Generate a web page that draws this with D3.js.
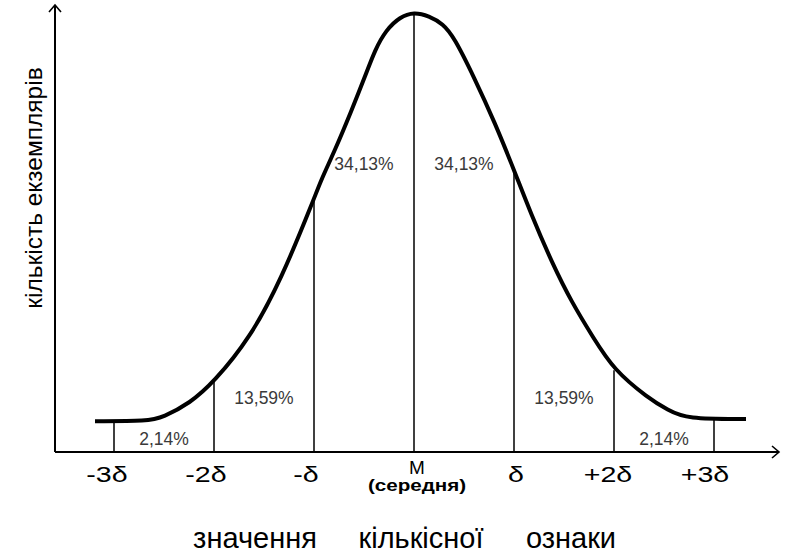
<!DOCTYPE html>
<html>
<head>
<meta charset="utf-8">
<script src="https://cdn.jsdelivr.net/npm/d3@7"></script>
<style>
body { margin: 0; background: #fff; }
svg { display: block; }
text { font-family: "Liberation Sans", Arial, sans-serif; }
</style>
</head>
<body>
<div id="chart"></div>
<script>
// позначки по осі X (у сигмах) та їх підписи
var sigmaTicks = [-3, -2, -1, 0, 1, 2, 3];
var tickLabels = ["-3δ", "-2δ", "-δ", "M", "δ", "+2δ", "+3δ"];
// частки між позначками
var bandLabels = ["2,14%", "13,59%", "34,13%", "34,13%", "13,59%", "2,14%"];
// крива (x у сигмах, y у % від вершини)
var curveX = [-3.19, -2.66, -2.51, -2.24, -2, -1.64, -1.33, -1, -0.93, -0.79, -0.63, -0.48, -0.39, -0.28, -0.14, 0,
              0.15, 0.29, 0.40, 0.60, 0.81, 1, 1.17, 1.38, 1.58, 1.79, 2, 2.34, 2.54, 2.72, 3.32];
var curveY = [7.0, 7.0, 7.9, 11.1, 15.9, 25.9, 39.1, 57.5, 61.8, 68.6, 77.3, 85.9, 91.4, 95.9, 98.9, 100,
              99.1, 97.3, 94.3, 85.2, 74.8, 64.1, 54.1, 43.0, 33.9, 26.1, 18.6, 12.3, 9.5, 7.5, 7.5];

var width = 785, height = 553;
var axisX = 55, axisY = 452, axisTop = 5, axisRight = 779;

var svg = d3.select("#chart").append("svg")
    .attr("width", width)
    .attr("height", height);

var x = d3.scaleLinear().domain([-3, 3]).range([114, 714]);
var y = d3.scaleLinear().domain([0, 100]).range([axisY, 12]);

var points = curveX.map(function(d, i) { return [d, curveY[i]]; });

// значення кривої в точці (лінійно між зчитаними точками)
function curveAt(s) {
    var i = d3.bisectLeft(curveX, s);
    if (curveX[i] === s) return curveY[i];
    var t = (s - curveX[i - 1]) / (curveX[i] - curveX[i - 1]);
    return curveY[i - 1] + t * (curveY[i] - curveY[i - 1]);
}

// осі
svg.append("line")
    .attr("x1", axisX).attr("y1", axisY)
    .attr("x2", axisX).attr("y2", axisTop)
    .attr("stroke", "#000").attr("stroke-width", 2);
svg.append("line")
    .attr("x1", axisX).attr("y1", axisY)
    .attr("x2", axisRight).attr("y2", axisY)
    .attr("stroke", "#000").attr("stroke-width", 2);
svg.append("path")
    .attr("d", "M" + (axisX - 6) + "," + (axisTop + 7) + "L" + axisX + "," + axisTop + "L" + (axisX + 6) + "," + (axisTop + 7))
    .attr("fill", "none").attr("stroke", "#000").attr("stroke-width", 1.6);
svg.append("path")
    .attr("d", "M" + (axisRight - 7) + "," + (axisY - 6) + "L" + axisRight + "," + axisY + "L" + (axisRight - 7) + "," + (axisY + 6))
    .attr("fill", "none").attr("stroke", "#000").attr("stroke-width", 1.6);

// вертикальні лінії до кривої
svg.selectAll(".marker")
    .data(sigmaTicks)
    .enter().append("line")
        .attr("class", "marker")
        .attr("x1", d => x(d)).attr("x2", d => x(d))
        .attr("y1", axisY)
        .attr("y2", d => y(curveAt(d)))
        .attr("stroke", "#000")
        .attr("stroke-width", 1.5);

// крива
var line = d3.line()
    .x(d => x(d[0]))
    .y(d => y(d[1]))
    .curve(d3.curveBasis);

svg.append("path")
    .datum(points)
    .attr("d", line)
    .attr("fill", "none")
    .attr("stroke", "#000")
    .attr("stroke-width", 4)
    .attr("stroke-linejoin", "round");

// підписи часток
var bandY = [1.7, 11, 64, 64, 11, 1.7];
svg.selectAll(".band")
    .data(bandLabels)
    .enter().append("text")
        .attr("class", "band")
        .attr("x", (d, i) => x((sigmaTicks[i] + sigmaTicks[i + 1]) / 2))
        .attr("y", (d, i) => y(bandY[i]))
        .attr("text-anchor", "middle")
        .attr("font-size", "17.5px")
        .attr("fill", "#3a3a3a")
        .text(d => d);

// підписи позначок (окрім M)
var tickShift = [-7, -8, -8, 0, 2, -6, -9];
svg.selectAll(".tick")
    .data(tickLabels.filter(d => d !== "M"))
    .enter().append("text")
        .attr("class", "tick")
        .attr("transform", function(d) {
            var i = tickLabels.indexOf(d);
            return "translate(" + (x(sigmaTicks[i]) + tickShift[i]) + "," + (axisY + 30) + ") scale(1.3,1)";
        })
        .attr("text-anchor", "middle")
        .attr("font-size", "22px")
        .text(d => d);

svg.append("text")
    .attr("x", x(0) + 3).attr("y", axisY + 22)
    .attr("text-anchor", "middle")
    .attr("font-size", "19px")
    .text(tickLabels[3]);
svg.append("text")
    .attr("transform", "translate(" + (x(0) + 3) + "," + (axisY + 39) + ") scale(1.25,1)")
    .attr("text-anchor", "middle")
    .attr("font-size", "16.5px")
    .attr("font-weight", "bold")
    .text("(середня)");

// назви осей
svg.append("text")
    .attr("transform", "translate(42,188) rotate(-90)")
    .attr("text-anchor", "middle")
    .attr("font-size", "24.5px")
    .text("кількість екземплярів");

var xTitle = ["значення", "кількісної", "ознаки"];
var xTitlePos = [255, 421, 571];
svg.selectAll(".xtitle")
    .data(xTitle)
    .enter().append("text")
        .attr("class", "xtitle")
        .attr("x", (d, i) => xTitlePos[i])
        .attr("y", 548)
        .attr("text-anchor", "middle")
        .attr("font-size", "29px")
        .text(d => d);
</script>
</body>
</html>
